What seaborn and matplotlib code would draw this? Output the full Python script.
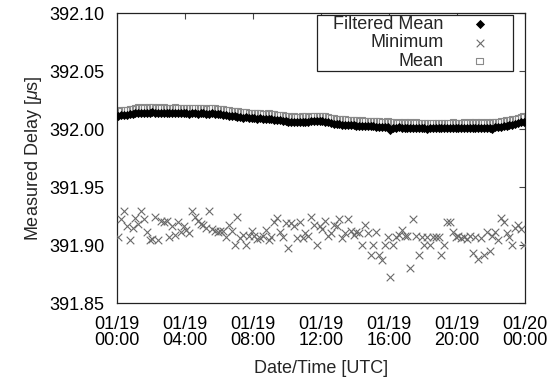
import numpy as np
import pandas as pd
import matplotlib
matplotlib.use("Agg")
import matplotlib.pyplot as plt
from matplotlib.ticker import FormatStrFormatter
import seaborn as sns

# ---------------- data (10-minute samples, 01/19 00:05 ... 23:55 UTC) ----------------
start_time = "2012-01-19 00:05"
n_samples = 144

filtered_mean = [
    392.0115, 392.0118, 392.0122, 392.0120, 392.0126, 392.0130,
    392.0134, 392.0140, 392.0138, 392.0142, 392.0137, 392.0140,
    392.0143, 392.0139, 392.0141, 392.0136, 392.0140, 392.0138,
    392.0135, 392.0139, 392.0142, 392.0137, 392.0134, 392.0138,
    392.0136, 392.0132, 392.0135, 392.0138, 392.0133, 392.0136,
    392.0134, 392.0130, 392.0133, 392.0137, 392.0132, 392.0128,
    392.0126, 392.0123, 392.0120, 392.0116, 392.0112, 392.0108,
    392.0105, 392.0101, 392.0098, 392.0100, 392.0096, 392.0093,
    392.0092, 392.0089, 392.0091, 392.0087, 392.0085, 392.0088,
    392.0084, 392.0080, 392.0078, 392.0075, 392.0071, 392.0067,
    392.0063, 392.0059, 392.0061, 392.0057, 392.0060, 392.0062,
    392.0064, 392.0061, 392.0065, 392.0068, 392.0066, 392.0069,
    392.0067, 392.0063, 392.0058, 392.0052, 392.0047, 392.0043,
    392.0040, 392.0036, 392.0038, 392.0034, 392.0031, 392.0033,
    392.0030, 392.0027, 392.0029, 392.0025, 392.0023, 392.0026,
    392.0022, 392.0019, 392.0021, 392.0017, 392.0015, 392.0018,
    391.9990, 392.0012, 392.0010, 392.0013, 392.0009, 392.0011,
    392.0008, 392.0011, 392.0007, 392.0010, 392.0006, 392.0009,
    392.0007, 392.0004, 392.0008, 392.0005, 392.0009, 392.0006,
    392.0008, 392.0005, 392.0009, 392.0006, 392.0010, 392.0007,
    392.0009, 392.0006, 392.0010, 392.0007, 392.0011, 392.0008,
    392.0010, 392.0007, 392.0011, 392.0008, 392.0012, 392.0010,
    391.9998, 392.0014, 392.0017, 392.0020, 392.0024, 392.0028,
    392.0033, 392.0038, 392.0044, 392.0050, 392.0057, 392.0064,
]

minimum = [
    391.907, 391.922, 391.929, 391.916, 391.904, 391.915,
    391.923, 391.918, 391.929, 391.922, 391.911, 391.904,
    391.905, 391.924, 391.904, 391.921, 391.920, 391.921,
    391.907, 391.916, 391.909, 391.920, 391.911, 391.916,
    391.913, 391.910, 391.929, 391.924, 391.921, 391.918,
    391.917, 391.915, 391.929, 391.914, 391.912, 391.911,
    391.912, 391.912, 391.907, 391.917, 391.912, 391.900,
    391.924, 391.906, 391.909, 391.900, 391.908, 391.912,
    391.908, 391.905, 391.906, 391.908, 391.913, 391.904,
    391.907, 391.920, 391.923, 391.911, 391.907, 391.919,
    391.897, 391.919, 391.916, 391.906, 391.920, 391.906,
    391.910, 391.908, 391.924, 391.917, 391.900, 391.916,
    391.914, 391.921, 391.908, 391.910, 391.917, 391.916,
    391.922, 391.906, 391.910, 391.922, 391.912, 391.909,
    391.911, 391.910, 391.900, 391.917, 391.910, 391.891,
    391.900, 391.911, 391.891, 391.887, 391.900, 391.907,
    391.872, 391.900, 391.907, 391.909, 391.913, 391.908,
    391.908, 391.880, 391.922, 391.908, 391.891, 391.907,
    391.900, 391.907, 391.900, 391.907, 391.907, 391.907,
    391.891, 391.900, 391.920, 391.920, 391.911, 391.907,
    391.908, 391.906, 391.907, 391.905, 391.908, 391.893,
    391.907, 391.888, 391.906, 391.891, 391.911, 391.895,
    391.908, 391.911, 391.904, 391.923, 391.920, 391.910,
    391.907, 391.900, 391.915, 391.917, 391.914, 391.900,
]

mean = [
    392.0158, 392.0163, 392.0166, 392.0162, 392.0171, 392.0174,
    392.0180, 392.0185, 392.0181, 392.0188, 392.0183, 392.0186,
    392.0187, 392.0182, 392.0186, 392.0180, 392.0185, 392.0183,
    392.0179, 392.0184, 392.0188, 392.0181, 392.0178, 392.0183,
    392.0181, 392.0176, 392.0180, 392.0184, 392.0177, 392.0181,
    392.0179, 392.0174, 392.0178, 392.0183, 392.0176, 392.0173,
    392.0171, 392.0168, 392.0165, 392.0161, 392.0157, 392.0154,
    392.0150, 392.0146, 392.0143, 392.0146, 392.0141, 392.0138,
    392.0137, 392.0134, 392.0137, 392.0132, 392.0130, 392.0133,
    392.0129, 392.0125, 392.0123, 392.0120, 392.0116, 392.0112,
    392.0108, 392.0104, 392.0107, 392.0102, 392.0105, 392.0108,
    392.0110, 392.0106, 392.0111, 392.0114, 392.0111, 392.0115,
    392.0112, 392.0108, 392.0103, 392.0097, 392.0092, 392.0088,
    392.0085, 392.0081, 392.0084, 392.0079, 392.0076, 392.0079,
    392.0075, 392.0072, 392.0075, 392.0070, 392.0068, 392.0072,
    392.0067, 392.0064, 392.0067, 392.0062, 392.0060, 392.0064,
    392.0058, 392.0057, 392.0055, 392.0059, 392.0054, 392.0057,
    392.0053, 392.0057, 392.0052, 392.0056, 392.0051, 392.0055,
    392.0052, 392.0049, 392.0054, 392.0050, 392.0055, 392.0051,
    392.0053, 392.0050, 392.0055, 392.0051, 392.0056, 392.0052,
    392.0055, 392.0051, 392.0056, 392.0052, 392.0057, 392.0053,
    392.0056, 392.0052, 392.0057, 392.0053, 392.0058, 392.0055,
    392.0056, 392.0060, 392.0063, 392.0066, 392.0070, 392.0074,
    392.0078, 392.0083, 392.0089, 392.0095, 392.0101, 392.0107,
]

x_tick_times = ["2012-01-19 00:00", "2012-01-19 04:00", "2012-01-19 08:00",
                "2012-01-19 12:00", "2012-01-19 16:00", "2012-01-19 20:00",
                "2012-01-20 00:00"]
x_tick_labels = ["01/19\n00:00", "01/19\n04:00", "01/19\n08:00", "01/19\n12:00",
                 "01/19\n16:00", "01/19\n20:00", "01/20\n00:00"]
y_ticks = [391.85, 391.90, 391.95, 392.00, 392.05, 392.10]

times = pd.date_range(start_time, periods=n_samples, freq="10min")
df = pd.DataFrame({"time": times, "filtered": filtered_mean,
                   "minimum": minimum, "mean": mean})

# ---------------- style ----------------
sns.set_style("white")
plt.rcParams["font.family"] = ["Liberation Sans", "DejaVu Sans"]
plt.rcParams["mathtext.fontset"] = "custom"
plt.rcParams["mathtext.it"] = "Liberation Sans:italic"
plt.rcParams["mathtext.rm"] = "Liberation Sans"

fig = plt.figure(figsize=(5.5, 3.85), dpi=100)
ax = fig.add_axes([117 / 550, 1 - 303 / 385, (525 - 117) / 550, (303 - 13) / 385])

sns.scatterplot(data=df, x="time", y="mean", ax=ax, marker="s", s=20,
                facecolor="none", edgecolor="#8a8a8a", linewidth=0.8,
                label="Mean", zorder=2)
sns.scatterplot(data=df, x="time", y="minimum", ax=ax, marker="x", s=30,
                color="#6a6a6a", linewidth=0.8, label="Minimum", zorder=3)
sns.scatterplot(data=df, x="time", y="filtered", ax=ax, marker="D", s=22,
                color="black", linewidth=0, label="Filtered Mean", zorder=4)

ax.set_xlim(pd.Timestamp(x_tick_times[0]), pd.Timestamp(x_tick_times[-1]))
ax.set_ylim(y_ticks[0], y_ticks[-1])
ax.set_xticks([pd.Timestamp(t) for t in x_tick_times])
ax.set_xticklabels(x_tick_labels, linespacing=0.92)
ax.set_yticks(y_ticks)
ax.yaxis.set_major_formatter(FormatStrFormatter("%.2f"))

ax.tick_params(direction="in", length=4, width=0.8, top=True, right=True,
               labelsize=13, colors="#444444", labelcolor="black")
ax.tick_params(axis="y", pad=9)
ax.tick_params(axis="x", pad=9.5)
for sp in ax.spines.values():
    sp.set_visible(True)
    sp.set_color("#222222")
    sp.set_linewidth(0.9)

ax.set_xlabel("Date/Time [UTC]", fontsize=13, labelpad=8)
ax.set_ylabel(r"Measured Delay [$\mu$s]", fontsize=13, labelpad=3.5)

handles, labels = ax.get_legend_handles_labels()
order = [labels.index("Filtered Mean"), labels.index("Minimum"), labels.index("Mean")]
legend_labels = ["   Filtered Mean", "Minimum", "Mean"]
leg = ax.legend([handles[i] for i in order], legend_labels,
                loc="upper right", bbox_to_anchor=((513 - 117) / 408, 1 - 2 / 290),
                borderaxespad=0, markerfirst=False, fontsize=13, frameon=True,
                fancybox=False, edgecolor="#222222", framealpha=1,
                borderpad=0.05, labelspacing=0.08, handlelength=3.6,
                handletextpad=0.2)
leg.get_frame().set_linewidth(0.9)

fig.savefig("out.png", dpi=100)
